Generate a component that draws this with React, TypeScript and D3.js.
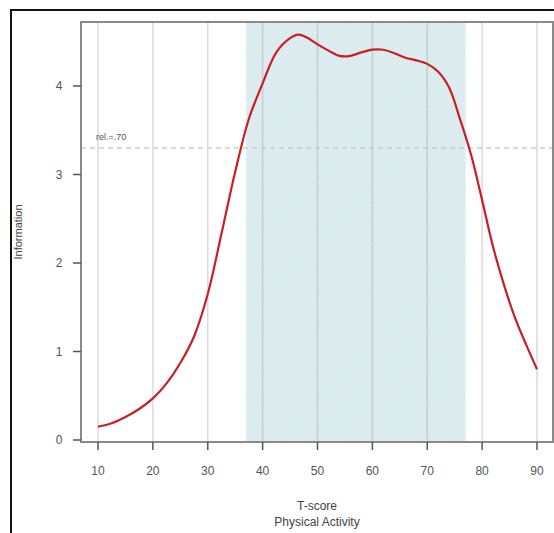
import React from "react";
import * as d3 from "d3";

const tScores = [10, 12.5, 15, 17.5, 20, 22.5, 25, 27.5, 30, 32.5, 35, 37.5, 40, 42.5, 45, 46.5, 48, 50, 52, 54, 56, 58, 60, 62, 64, 66, 68, 70, 72, 74, 76, 78, 80, 82, 84, 86, 88, 90];
const information = [0.15, 0.19, 0.26, 0.35, 0.47, 0.64, 0.87, 1.17, 1.65, 2.33, 3.03, 3.63, 4.03, 4.38, 4.54, 4.58, 4.55, 4.47, 4.40, 4.34, 4.34, 4.38, 4.41, 4.41, 4.37, 4.32, 4.29, 4.25, 4.16, 3.98, 3.62, 3.22, 2.71, 2.18, 1.75, 1.38, 1.08, 0.80];
const xTicks = [10, 20, 30, 40, 50, 60, 70, 80, 90];
const yTicks = [0, 1, 2, 3, 4];
const shadedRange = [37, 77];
const reliabilityInfo = 3.3;
const reliabilityLabel = "rel.=.70";
const xTitle = ["T-score", "Physical Activity"];
const yTitle = "Information";

export default function App() {
  const W = 554, H = 533;
  const x = d3.scaleLinear().domain([10, 90]).range([98, 537]);
  const y = d3.scaleLinear().domain([0, 4]).range([440, 86]);
  const frameL = 81, frameR = 553, frameT = 22, frameB = 442;
  const pts = tScores.map((t, i) => [t, information[i]] as [number, number]);
  const line = d3.line<[number, number]>().x(d => x(d[0])).y(d => y(d[1])).curve(d3.curveCatmullRom.alpha(0.5));
  const font = "'Liberation Sans', Arial, sans-serif";
  return (
    <svg width={W} height={H} style={{ position: "absolute", left: 0, top: 0, background: "#fff" }} fontFamily={font}>
      <defs>
        <pattern id="hatch" width="3.2" height="3.2" patternUnits="userSpaceOnUse" patternTransform="rotate(45)">
          <rect width="3.2" height="3.2" fill="#d8eaee" />
          <line x1="0" y1="0" x2="0" y2="3.2" stroke="#eef6f8" strokeWidth="1.1" />
        </pattern>
      </defs>
      <rect x={11} y={10} width={W} height={H} fill="none" stroke="#111" strokeWidth={2} />
      <rect x={x(shadedRange[0])} y={frameT} width={x(shadedRange[1]) - x(shadedRange[0])} height={frameB - frameT} fill="url(#hatch)" />
      {xTicks.map(t => (
        <line key={"g" + t} x1={x(t)} x2={x(t)} y1={frameT} y2={frameB} stroke="#a8a8a8" strokeOpacity={0.4} strokeWidth={1.6} />
      ))}
      <line x1={frameL} x2={frameR} y1={y(reliabilityInfo)} y2={y(reliabilityInfo)} stroke="#c4c4c4" strokeWidth={1.3} strokeDasharray="5,4" />
      <text x={96} y={140} fontSize={9} fill="#555">{reliabilityLabel}</text>
      <path d={line(pts) || ""} fill="none" stroke="#c81e24" strokeWidth={2.2} />
      <path d={`M${frameL},${frameT}H${frameR}V${frameB}H${frameL}Z`} fill="none" stroke="#8a8a8a" strokeWidth={2} />
      {yTicks.map(v => (
        <g key={"y" + v}>
          <line x1={frameL - 8} x2={frameL} y1={y(v)} y2={y(v)} stroke="#555" strokeWidth={1.5} />
          <text x={frameL - 22} y={y(v)} dy="0.35em" textAnchor="middle" fontSize={12} fill="#555">{v}</text>
        </g>
      ))}
      {xTicks.map(t => (
        <g key={"x" + t}>
          <line x1={x(t)} x2={x(t)} y1={frameB} y2={frameB + 8} stroke="#555" strokeWidth={1.5} />
          <text x={x(t)} y={471} dy="0.35em" textAnchor="middle" fontSize={12} fill="#555">{t}</text>
        </g>
      ))}
      <text x={(frameL + frameR) / 2} y={510} textAnchor="middle" fontSize={12} fill="#444">{xTitle[0]}</text>
      <text x={(frameL + frameR) / 2} y={526} textAnchor="middle" fontSize={12} fill="#444">{xTitle[1]}</text>
      <text transform={`translate(22,${(frameT + frameB) / 2}) rotate(-90)`} textAnchor="middle" fontSize={11} fill="#444">{yTitle}</text>
    </svg>
  );
}
